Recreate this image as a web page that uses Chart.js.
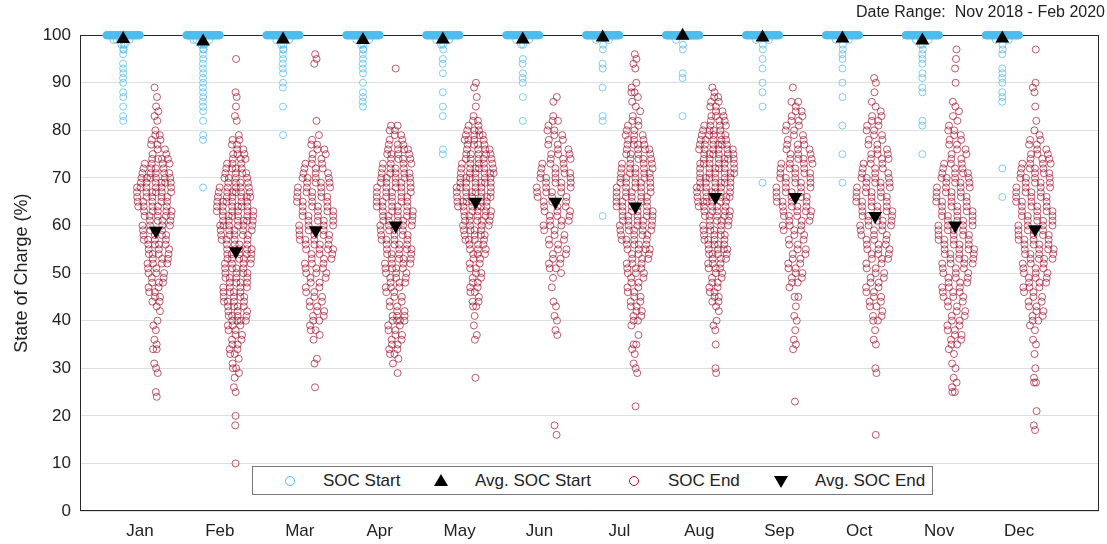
<!DOCTYPE html>
<html>
<head>
<meta charset="utf-8">
<title>State of Charge by Month</title>
<script src="https://cdn.jsdelivr.net/npm/chart.js@4.4.1/dist/chart.umd.min.js"></script>
<style>
  body { margin: 0; background: #fff; }
  #wrap { position: relative; width: 1107px; height: 544px; font-family: "Liberation Sans", Arial, sans-serif; }
  #legend { position: absolute; left: 252px; top: 466px; width: 679px; height: 27px; border: 1px solid #777; background: #fff; font-size: 17px; color: #222; }
  #legend span { position: absolute; top: 0; line-height: 27px; white-space: nowrap; }
  #legend svg { position: absolute; top: 6px; }
</style>
</head>
<body>
<div id="wrap">
  <canvas id="soc-chart" width="1107" height="544"></canvas>
  <div id="legend">
    <svg style="left:29px" width="16" height="16"><circle cx="8" cy="8" r="4.5" fill="none" stroke="rgb(77,190,238)" stroke-width="1"/></svg>
    <span style="left:70px">SOC Start</span>
    <svg style="left:180px" width="16" height="16"><polygon points="8,1 15,13 1,13" fill="#000"/></svg>
    <span style="left:222px">Avg. SOC Start</span>
    <svg style="left:373px" width="16" height="16"><circle cx="8" cy="8" r="4.5" fill="none" stroke="rgb(162,20,47)" stroke-width="1"/></svg>
    <span style="left:415px">SOC End</span>
    <svg style="left:520px" width="16" height="16"><polygon points="1,3 15,3 8,15" fill="#000"/></svg>
    <span style="left:562px">Avg. SOC End</span>
  </div>
</div>
<script>
document.addEventListener('DOMContentLoaded', () => {
    // --- Data ---
    const months = ['Jan', 'Feb', 'Mar', 'Apr', 'May', 'Jun', 'Jul', 'Aug', 'Sep', 'Oct', 'Nov', 'Dec'];
    const yTicks = [0, 10, 20, 30, 40, 50, 60, 70, 80, 90, 100];
    const dateRange = 'Date Range:  Nov 2018 - Feb 2020';

    // SOC End: lowest value per month, then count of sessions at each integer % upward
    const endLow = [24, 10, 26, 29, 28, 16, 22, 29, 23, 16, 25, 17];
    const endCounts = [
        [1,1,0,0,0,1,1,1,0,0, 2,1,1,0,1,1,1,0,1,1, 2,2,2,2,3,2,3,2,4,3, 4,3,4,4,4,4,4,4,5,5, 5,5,5,6,6,6,6,5,4,4, 4,2,2,2,2,2,1,0,1,1, 1,1,0,1,0,1],
        [1,0,0,0,0,0,0,0,1,0, 1,0,0,0,0,1,1,0,1,1, 2,1,1,2,2,2,2,2,2,3, 4,4,3,4,4,4,4,4,4,4, 4,4,4,5,5,5,4,4,5,5, 6,6,6,6,6,6,6,6,5,4, 4,4,4,3,3,3,2,2,2,1, 0,0,1,1,0,1,0,1,1,0, 0,0,0,0,0,1],
        [1,0,0,0,0,1,1,0,0,0, 1,1,2,1,2,2,2,2,2,2, 2,2,2,2,3,3,3,3,3,4, 4,4,4,4,4,4,4,4,4,4, 4,4,4,4,4,3,3,3,2,2, 2,2,1,1,0,0,1,0,0,0, 0,0,0,0,0,0,0,0,1,1,1],
        [1,0,1,1,2,2,2,2,2,2, 2,4,3,2,2,2,2,2,3,3, 3,3,4,4,4,4,4,4,4,4, 4,5,5,5,5,5,5,5,5,5, 5,5,5,4,4,4,4,4,3,2, 2,2,2,0,0,0,0,0,0,0, 0,0,0,0,1],
        [1,0,0,0,0,0,0,0,1,1, 0,1,0,1,0,2,2,1,2,2, 2,2,2,2,2,2,3,3,3,4, 4,4,4,5,5,5,6,6,6,6, 6,6,6,6,6,5,5,5,4,4, 4,4,3,2,2,1,0,1,0,1, 0,1,1],
        [1,0,1,0,0,0,0,0,0,0, 0,0,0,0,0,0,0,0,0,0, 0,1,1,0,1,1,0,1,1,0, 0,1,0,1,1,2,2,2,2,2, 2,2,2,2,3,3,3,3,3,3, 3,4,4,4,4,4,3,3,3,3, 2,2,2,2,2,1,2,1,0,0, 1,1],
        [1,0,0,0,0,0,0,1,1,1, 0,1,1,2,0,1,0,1,2,2, 2,2,2,2,2,2,2,2,3,3, 3,3,3,4,4,4,4,5,5,5, 5,5,5,5,5,5,5,5,5,5, 5,4,4,4,4,4,3,3,2,2, 2,1,1,1,1,1,2,1,1,0, 0,1,1,1,1],
        [1,1,0,0,0,0,1,0,0,1, 1,1,0,1,1,2,2,2,2,2, 2,2,3,3,3,4,4,4,4,4, 4,4,4,5,5,5,6,6,6,6, 6,6,6,6,6,6,6,6,6,5, 5,4,4,3,3,2,2,2,2,1,1],
        [1,0,0,0,0,0,0,0,0,0, 0,1,1,1,0,1,0,1,1,0, 1,0,2,0,1,2,2,2,2,2, 2,2,2,2,2,2,3,3,3,4, 4,4,4,4,4,4,4,4,4,4, 4,4,3,3,3,2,2,2,2,2, 2,2,1,2,0,0,1],
        [1,0,0,0,0,0,0,0,0,0, 0,0,0,1,1,0,0,0,0,1, 1,0,1,0,2,2,1,2,2,2, 2,2,2,2,2,2,2,3,3,3, 3,3,3,3,4,4,4,4,4,4, 4,4,4,4,4,3,3,3,3,3, 2,2,2,2,2,2,2,2,1,1, 1,0,1,0,1,1],
        [2,1,1,1,0,1,1,0,1,1, 2,2,2,2,2,2,2,2,2,2, 3,3,3,3,3,3,3,4,4,4, 4,4,4,4,4,4,4,4,4,4, 4,4,4,4,4,4,4,3,3,2, 2,2,2,2,2,2,1,1,1,1, 1,1,0,0,0,1,0,0,1,0, 1,0,1],
        [1,1,0,0,1,0,0,0,0,0, 2,1,0,1,0,0,1,0,1,1, 0,1,1,2,2,2,2,2,2,2, 3,3,3,3,3,3,4,4,4,4, 4,4,4,4,4,4,4,4,4,4, 4,4,4,4,4,4,4,3,3,2, 2,2,1,1,0,1,0,0,1,0, 0,1,1,1,0,0,0,0,0,0,1]
    ];

    // SOC Start: sessions that began full, plus the ones that began below 100 %
    const startFull = [200, 250, 180, 230, 240, 140, 260, 280, 190, 190, 230, 220];
    const startTail = [
        [99,99,99,99,98,98,98,97,97,96,94,93,92,91,90,88,87,85,83,82],
        [99,99,99,99,98,98,98,97,97,96,95,94,93,92,91,90,89,88,87,86,85,84,82,79,78,68],
        [99,99,99,98,98,97,97,96,95,94,93,92,90,89,85,79],
        [99,99,99,98,98,97,97,96,95,94,93,92,90,88,87,86,85],
        [99,99,99,98,98,97,95,94,92,88,85,83,76,75],
        [99,99,98,98,95,94,92,91,90,87,82],
        [99,99,98,97,94,93,89,83,82,62],
        [99,98,97,92,91,83],
        [99,99,98,97,95,93,90,88,85,69],
        [99,99,98,97,96,95,93,90,87,81,75,69],
        [99,99,99,98,98,97,96,95,94,92,91,89,88,82,81,75],
        [99,99,98,97,96,93,92,91,90,88,87,86,72,66]
    ];

    const avgStart = [99.2, 98.7, 99.1, 99.0, 99.1, 99.1, 99.5, 99.9, 99.5, 99.3, 98.9, 99.3];
    const avgEnd = [58.9, 54.6, 59.0, 60.0, 65.0, 65.0, 64.0, 66.0, 66.0, 62.0, 60.0, 59.2];

    // --- Layout helpers ---
    const startShift = -0.21;
    const endShift = 0.2;

    // density-scaled jitter, like a swarm: wide where values pile up, a thin column in the tails
    const swarm = (values, center, halfWidth, bw) => {
        const tally = new Map();
        values.forEach(v => tally.set(v, (tally.get(v) || 0) + 1));
        const keys = [...tally.keys()];
        const dens = v => keys.reduce((s, u) => s + tally.get(u) * Math.exp(-((v - u) ** 2) / (2 * bw * bw)), 0);
        const peak = Math.max(...keys.map(dens));
        const pts = [];
        keys.forEach(v => {
            const n = tally.get(v);
            const w = halfWidth * dens(v) / peak;
            const phase = (v * 0.618034) % 1;
            for (let k = 0; k < n; k++) {
                const t = (phase + k * 0.618034) % 1;
                pts.push({ x: center + w * (2 * t - 1), y: v });
            }
        });
        return pts;
    };

    const startPoints = [];
    const endPoints = [];
    months.forEach((m, i) => {
        const starts = Array(startFull[i]).fill(100).concat(startTail[i]);
        const ends = endCounts[i].flatMap((c, j) => Array(c).fill(endLow[i] + j));
        startPoints.push(...swarm(starts, i + 1 + startShift, 0.21, 1));
        endPoints.push(...swarm(ends, i + 1 + endShift, 0.25, 3));
    });

    const textColor = '#222222';
    const fontFamily = '"Liberation Sans", Arial, sans-serif';

    // plot frame, drawn under the markers
    const frame = {
        id: 'frame',
        beforeDatasetsDraw(chart) {
            const { ctx, chartArea: a } = chart;
            ctx.save();
            ctx.strokeStyle = '#262626';
            ctx.lineWidth = 1;
            ctx.strokeRect(Math.round(a.left) + 0.5, Math.round(a.top) + 0.5, Math.round(a.width) - 1, Math.round(a.height) - 1);
            ctx.restore();
        }
    };

    const ctx = document.getElementById('soc-chart').getContext('2d');
    new Chart(ctx, {
        type: 'scatter',
        data: {
            datasets: [
                {
                    label: 'Avg. SOC Start',
                    data: avgStart.map((v, i) => ({ x: i + 1 + startShift, y: v })),
                    pointStyle: 'triangle',
                    pointRadius: 8,
                    backgroundColor: '#000',
                    borderColor: '#000',
                    borderWidth: 0,
                    clip: false
                },
                {
                    label: 'Avg. SOC End',
                    data: avgEnd.map((v, i) => ({ x: i + 1 + endShift, y: v })),
                    pointStyle: 'triangle',
                    rotation: 180,
                    pointRadius: 8,
                    backgroundColor: '#000',
                    borderColor: '#000',
                    borderWidth: 0,
                    clip: false
                },
                {
                    label: 'SOC Start',
                    data: startPoints,
                    pointStyle: 'circle',
                    pointRadius: 3.5,
                    borderWidth: 1,
                    backgroundColor: 'rgba(0,0,0,0)',
                    borderColor: 'rgba(77,190,238,0.75)',
                    clip: false
                },
                {
                    label: 'SOC End',
                    data: endPoints,
                    pointStyle: 'circle',
                    pointRadius: 3.5,
                    borderWidth: 1,
                    backgroundColor: 'rgba(0,0,0,0)',
                    borderColor: 'rgba(162,20,47,0.7)',
                    clip: false
                }
            ]
        },
        options: {
            responsive: false,
            animation: false,
            events: [],
            layout: { padding: { left: 0, right: 2, top: 0, bottom: 0 } },
            plugins: {
                legend: { display: false },
                tooltip: { enabled: false },
                title: {
                    display: true,
                    text: dateRange,
                    align: 'end',
                    color: textColor,
                    font: { family: fontFamily, size: 16, weight: 'normal' },
                    padding: { top: 3, bottom: 13 }
                }
            },
            scales: {
                x: {
                    type: 'linear',
                    min: 0.25,
                    max: 13,
                    afterBuildTicks: s => { s.ticks = months.map((_, i) => ({ value: i + 1 })); },
                    afterFit: s => { s.height = 33; },
                    grid: { display: false },
                    border: { display: false },
                    ticks: {
                        callback: v => months[Math.round(v) - 1],
                        color: textColor,
                        font: { family: fontFamily, size: 17 },
                        padding: 2,
                        maxRotation: 0,
                        autoSkip: false
                    }
                },
                y: {
                    min: 0,
                    max: 100,
                    afterBuildTicks: s => { s.ticks = yTicks.map(v => ({ value: v })); },
                    afterFit: s => { s.width = 80; },
                    grid: { color: '#dedede', drawTicks: false },
                    border: { display: false },
                    ticks: {
                        color: textColor,
                        font: { family: fontFamily, size: 17 },
                        padding: 9
                    },
                    title: {
                        display: true,
                        text: 'State of Charge (%)',
                        color: textColor,
                        font: { family: fontFamily, size: 18 },
                        padding: { top: 11, bottom: 0 }
                    }
                }
            }
        },
        plugins: [frame]
    });
});
</script>
</body>
</html>
